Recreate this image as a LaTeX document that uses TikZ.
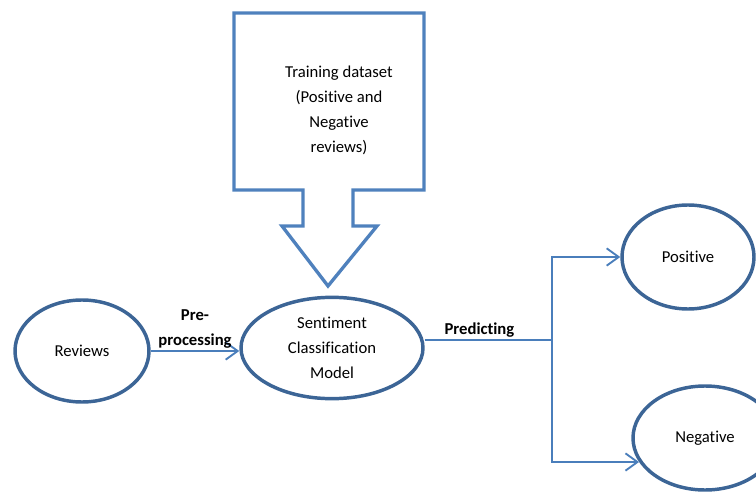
\documentclass[tikz,border=0pt]{standalone}
\usepackage{fontspec}
\setmainfont{Carlito}[Ligatures=NoCommon]
\usetikzlibrary{shapes.geometric,arrows.meta}
\definecolor{boxblue}{HTML}{4F81BD}
\definecolor{ringblue}{HTML}{3C6596}
\definecolor{lineblue}{HTML}{4A7EBB}

\begin{document}
\begin{tikzpicture}[x=0.75pt, y=-0.75pt,
  every node/.style={font=\fontsize{12.5}{18.75}\selectfont, align=center},
  oval/.style={ellipse, draw=ringblue, line width=2.6pt, inner sep=0pt},
  wire/.style={draw=lineblue, line width=2.1pt},
  flow/.style={wire, -{Straight Barb[length=9pt,width=13pt,line width=1.4pt]}},
  tag/.style={font=\fontsize{12.5}{18.75}\selectfont\bfseries, inner sep=1pt}]
  \useasboundingbox (0,0) rectangle (756,495); % page size

  % Training data callout with its arrow
  \draw[draw=boxblue, line width=2.5pt, line join=miter]
    (234,13) -- (424,13) -- (424,190) -- (353,190) -- (353,226) -- (377,226)
    -- (328,286) -- (282,226) -- (303,226) -- (303,190) -- (234,190) -- cycle;
  \node (train) at (339,110) {Training dataset\\(Positive and\\Negative\\reviews)};

  % The ovals
  \node[oval, minimum width=100.5pt, minimum height=76.5pt] (rev) at (82,351) {Reviews};
  \node[oval, minimum width=136.5pt, minimum height=76pt] (sent) at (332,348) {Sentiment\\Classification\\Model};
  \node[oval, minimum width=99pt, minimum height=78pt] (pos) at (688,257) {Positive};
  \node[oval, minimum width=108pt, minimum height=78pt] (neg) at (705,438) {Negative};

  % Connectors
  \draw[flow] (rev.east) -- (rev.east -| sent.west) node[tag, midway, above] {Pre-\\processing};
  \coordinate (split) at (552,340); % branch point
  \draw[wire] (sent.east |- split) -- (split) node[tag, pos=0.43, above] {Predicting};
  \draw[flow] (split) |- (pos.west);
  \draw[flow] (split) |- (neg.200);
\end{tikzpicture}
\end{document}
